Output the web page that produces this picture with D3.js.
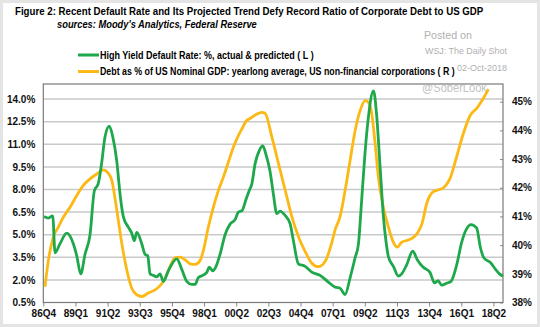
<!DOCTYPE html>
<html>
<head>
<meta charset="utf-8">
<script src="https://cdn.jsdelivr.net/npm/d3@7"></script>
<style>
  body{margin:0;background:#fff;}
  svg{display:block;font-family:'Liberation Sans', Arial, sans-serif;}
</style>
</head>
<body>
<svg id="chart" width="540" height="327"></svg>
<script>
// ============= Data =============
// High yield default rate (%, left axis), time in decimal years
const defaultYears = [1986.80,1987.10,1987.41,1987.57,1987.92,1988.39,1988.85,1989.09,1989.37,1989.67,
  1990.02,1990.32,1990.60,1990.84,1991.07,1991.37,1991.61,1991.89,1992.12,1992.35,1992.70,1992.94,
  1993.12,1993.29,1993.64,1993.87,1994.06,1994.22,1994.45,1994.69,1994.92,1995.15,1995.50,1996.09,
  1996.44,1996.79,1997.14,1997.37,1997.60,1997.91,1998.19,1998.37,1998.61,1998.84,1999.12,1999.47,
  1999.82,2000.17,2000.40,2000.66,2000.94,2001.17,2001.34,2001.57,2001.87,2002.11,2002.34,2002.62,
  2002.85,2003.09,2003.32,2003.67,2004.02,2004.25,2004.60,2005.07,2005.54,2006.12,2006.70,2007.17,
  2007.52,2007.87,2008.22,2008.57,2008.80,2009.03,2009.27,2009.50,2009.86,2010.08,2010.32,2010.55,
  2010.74,2010.90,2011.25,2011.60,2011.83,2012.18,2012.60,2012.94,2013.32,2013.81,2014.13,2014.37,
  2014.63,2014.98,2015.28,2015.68,2016.03,2016.38,2016.68,2017.07,2017.35,2017.59,2018.04,2018.40,
  2018.67,2018.92];
const defaultRate = [6.2,6.1,6.25,3.8,4.4,5.1,4.4,3.6,2.4,3.7,
  5.0,7.9,8.4,9.8,11.5,12.2,11.5,9.9,7.7,6.2,5.5,5.1,
  4.6,5.15,4.4,3.7,3.6,2.4,2.3,2.2,2.4,1.9,2.6,3.4,
  2.7,1.9,1.7,1.7,2.15,2.3,2.5,2.85,2.6,2.9,3.7,5.0,
  5.7,6.0,6.5,6.6,7.35,7.95,8.35,9.7,10.6,10.9,10.3,9.2,
  7.7,6.4,6.57,6.28,5.73,4.62,3.07,2.9,2.52,2.3,1.85,1.52,
  1.45,1.03,2.14,3.47,4.36,7.3,10.5,12.8,14.55,12.9,9.5,6.2,
  4.5,3.55,2.9,2.25,2.4,3.0,3.9,3.3,2.85,2.5,1.8,1.95,
  1.65,1.78,1.9,3.0,4.5,5.4,5.67,5.45,4.1,3.45,3.15,2.7,
  2.4,2.25];

// Debt as % of US nominal GDP (right axis)
const debtYears = [1986.87,1987.10,1987.45,1987.80,1988.15,1988.62,1989.09,1989.55,1990.02,1990.49,
  1990.95,1991.30,1991.54,1991.89,1992.24,1992.59,1992.94,1993.29,1993.64,1994.10,1994.57,1994.92,
  1995.20,1995.50,1995.97,1996.32,1996.67,1997.02,1997.37,1997.72,1997.95,1998.30,1998.65,1999.00,
  1999.35,1999.70,2000.05,2000.40,2000.71,2000.94,2001.27,2001.64,2002.04,2002.27,2002.74,2003.20,
  2003.67,2004.14,2004.60,2005.07,2005.54,2006.00,2006.47,2006.93,2007.17,2007.52,2007.87,2008.22,
  2008.57,2008.92,2009.27,2009.50,2009.73,2009.96,2010.20,2010.55,2010.90,2011.25,2011.53,2011.83,
  2012.30,2012.63,2012.97,2013.25,2013.58,2014.05,2014.40,2014.75,2015.22,2015.68,2016.15,2016.62,
  2017.08,2017.55,2017.90];
const debtRatio = [38.55,39.45,40.28,40.63,40.97,41.32,41.73,42.08,42.31,42.48,
  42.62,42.5,42.27,41.23,40.07,39.14,38.5,38.27,38.21,38.33,38.44,38.59,
  38.77,39.11,39.56,39.58,39.49,39.35,39.33,39.46,39.81,40.63,41.32,41.9,
  42.37,42.89,43.41,43.82,44.11,44.32,44.43,44.55,44.63,44.6,43.78,42.86,
  41.93,41.0,40.3,39.78,39.37,39.25,39.43,40.07,40.53,41.0,41.9,42.95,
  43.99,44.69,45.04,44.98,44.6,43.6,42.37,41.32,40.63,40.1,39.93,40.1,
  40.18,40.26,40.45,40.75,41.45,41.87,41.93,42.0,42.33,43.09,43.9,44.52,
  44.77,45.12,45.44];

// Axis ticks
const xTickYears = [1986.75,1989.0,1991.25,1993.5,1995.75,1998.0,2000.25,2002.5,2004.75,2007.0,
  2009.25,2011.5,2013.75,2016.0,2018.25];
const xTickLabels = ['86Q4','89Q1','91Q2','93Q3','95Q4','98Q1','00Q2','02Q3','04Q4','07Q1',
  '09Q2','11Q3','13Q4','16Q1','18Q2'];
const leftTicks = [0.5,2.0,3.5,5.0,6.5,8.0,9.5,11.0,12.5,14.0];
const rightTicks = [38,39,40,41,42,43,44,45];

const green = '#1ea84b',
      gold = '#fcb814';

// ============= Frame =============
const svg = d3.select('#chart');

svg.append('rect')
  .attr('x', 1.5).attr('y', 1.5)
  .attr('width', 537).attr('height', 324)
  .attr('fill', '#fff')
  .attr('stroke', '#e4e4e4')
  .attr('stroke-width', 3);

const plot = {left: 43.3, right: 503, top: 84, bottom: 302.5};

const x = d3.scaleLinear()
  .domain([1986.75, 2018.92])
  .range([plot.left, plot.right]);

const yLeft = d3.scaleLinear()
  .domain([0.5, 15.0])
  .range([plot.bottom, plot.top]);

const yRight = d3.scaleLinear()
  .domain([38, 45.617])
  .range([plot.bottom, plot.top]);

/* Squeeze a text horizontally to a given width (the source uses a condensed face) */
function fitText(sel, left, base, width){
  sel.each(function(){
    const len = this.getComputedTextLength();
    d3.select(this)
      .attr('x', 0).attr('y', 0)
      .attr('transform', 'translate(' + left + ',' + base + ') scale(' + (width/len) + ',1)');
  });
}

// ============= Titles =============
svg.append('text')
  .style('font-size', '10.5px').style('font-weight', 'bold')
  .text('Figure 2: Recent Default Rate and Its Projected Trend Defy Record Ratio of Corporate Debt to US GDP')
  .call(fitText, 15, 15, 469);

svg.append('text')
  .style('font-size', '10.5px').style('font-weight', 'bold').style('font-style', 'italic')
  .text("sources: Moody's Analytics, Federal Reserve")
  .call(fitText, 57, 28, 200);

// ============= Watermark =============
const marks = [
  {text: 'Posted on', x: 424, y: 39, size: 11, width: 48},
  {text: 'WSJ: The Daily Shot', x: 425, y: 54, size: 9, width: 82},
  {text: '02-Oct-2018', x: 457, y: 70.5, size: 8.5, width: 50}
];

svg.append('g')
  .selectAll('text')
  .data(marks)
  .enter()
  .append('text')
  .attr('fill', '#b0b0b0')
  .style('font-size', d => d.size + 'px')
  .text(d => d.text)
  .each(function(d){ d3.select(this).call(fitText, d.x, d.y, d.width); });

// ============= Legend =============
const legendItems = [
  {color: green, y: 55, width: 214, label: 'High Yield Default Rate: %, actual & predicted ( L )'},
  {color: gold, y: 71.5, width: 355, label: 'Debt as % of US Nominal GDP: yearlong average, US non-financial corporations ( R )'}
];

const legend = svg.append('g').attr('class', 'legend');

legend.selectAll('line')
  .data(legendItems)
  .enter()
  .append('line')
  .attr('x1', 78).attr('x2', 99)
  .attr('y1', d => d.y).attr('y2', d => d.y)
  .attr('stroke', d => d.color)
  .attr('stroke-width', 3);

legend.selectAll('text')
  .data(legendItems)
  .enter()
  .append('text')
  .style('font-size', '10px').style('font-weight', 'bold')
  .text(d => d.label)
  .each(function(d){ d3.select(this).call(fitText, 100, d.y + 3.5, d.width); });

// ============= Grid & axes =============
const grid = svg.append('g').attr('class', 'grid');

grid.selectAll('line')
  .data(leftTicks.slice(1))
  .enter()
  .append('line')
  .attr('x1', plot.left).attr('x2', plot.right)
  .attr('y1', d => yLeft(d)).attr('y2', d => yLeft(d))
  .attr('stroke', '#c9c9c9')
  .attr('stroke-width', 1.5);

// Left axis
const leftAxis = svg.append('g')
  .attr('transform', 'translate(' + plot.left + ',0)')
  .call(d3.axisLeft(yLeft).tickValues(leftTicks).tickSize(0).tickPadding(8)
    .tickFormat(d => d3.format('.1f')(d) + '%'));
leftAxis.select('.domain').remove();

// Right axis
const rightAxis = svg.append('g')
  .attr('transform', 'translate(' + plot.right + ',0)')
  .call(d3.axisRight(yRight).tickValues(rightTicks).tickSizeInner(-3).tickSizeOuter(0).tickPadding(9)
    .tickFormat(d => d + '%'));
rightAxis.select('.domain').remove();
rightAxis.selectAll('.tick line').attr('stroke', '#888');

// Bottom axis
const bottomAxis = svg.append('g')
  .attr('transform', 'translate(0,' + plot.bottom + ')')
  .call(d3.axisBottom(x).tickValues(xTickYears).tickSizeInner(4).tickSizeOuter(0).tickPadding(3)
    .tickFormat((d, i) => xTickLabels[i]));
bottomAxis.select('.domain').remove();
bottomAxis.selectAll('.tick line').attr('stroke', '#888');

svg.selectAll('.tick text')
  .attr('fill', '#111')
  .style('font-size', '10px')
  .style('font-weight', 'bold')
  .style('font-family', "'Liberation Sans', Arial, sans-serif");

// Plot frame
svg.append('rect')
  .attr('x', plot.left).attr('y', plot.top)
  .attr('width', plot.right - plot.left)
  .attr('height', plot.bottom - plot.top)
  .attr('fill', 'none')
  .attr('stroke', '#7a7a7a')
  .attr('stroke-width', 1.2);

// ============= Series =============
const debtLine = d3.line()
  .x((d, i) => x(debtYears[i]))
  .y(d => yRight(d))
  .curve(d3.curveMonotoneX);

const defaultLine = d3.line()
  .x((d, i) => x(defaultYears[i]))
  .y(d => yLeft(d))
  .curve(d3.curveMonotoneX);

svg.append('path')
  .datum(debtRatio)
  .attr('d', debtLine)
  .attr('fill', 'none')
  .attr('stroke', gold)
  .attr('stroke-width', 2.8)
  .attr('stroke-linejoin', 'round');

svg.append('path')
  .datum(defaultRate)
  .attr('d', defaultLine)
  .attr('fill', 'none')
  .attr('stroke', green)
  .attr('stroke-width', 2.8)
  .attr('stroke-linejoin', 'round');

// @SoberLook sits over the plot frame
svg.append('text')
  .attr('fill', '#b0b0b0').attr('fill-opacity', 0.8)
  .style('font-size', '12px')
  .text('@SoberLook')
  .call(fitText, 422, 92, 65);
</script>
</body>
</html>
